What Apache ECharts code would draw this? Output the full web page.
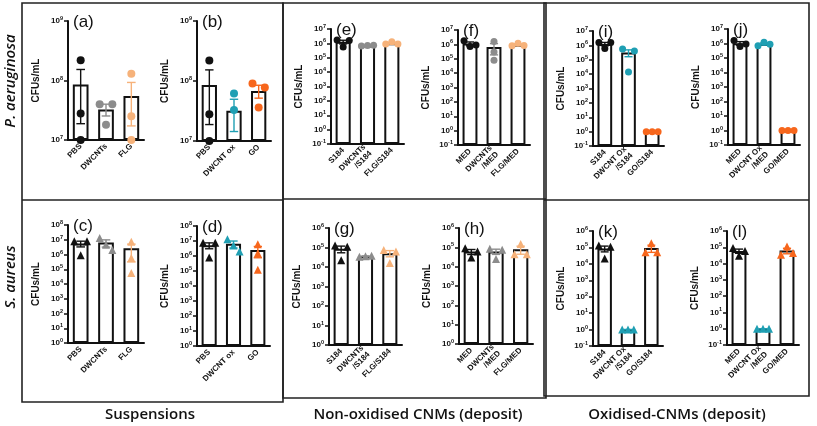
<!DOCTYPE html>
<html><head><meta charset="utf-8">
<script src="https://cdn.jsdelivr.net/npm/echarts@6/dist/echarts.min.js"></script>
<style>html,body{margin:0;padding:0;background:#fff}#c{width:817px;height:426px}</style>
</head><body><div id="c"></div><script>
// ---------- categories ----------
const catsSuspA = ['PBS', 'DWCNTs', 'FLG'];
const catsSuspB = ['PBS', 'DWCNT ox', 'GO'];
const catsDepS184 = ['S184', 'DWCNTs\n/S184', 'FLG/S184'];
const catsDepMED = ['MED', 'DWCNTs\n/MED', 'FLG/MED'];
const catsOxS184 = ['S184', 'DWCNT Ox\n/S184', 'GO/S184'];
const catsOxMED = ['MED', 'DWCNT Ox\n/MED', 'GO/MED'];

// ---------- y-axis ranges (tick labels 10^min ... 10^max) ----------
const rangeSuspPA = [1e7, 1e9];
const rangeSuspSA = [1, 1e8];
const rangeDepPA = [0.1, 1e7];
const rangeDepSA = [1, 1e6];
const rangeOxPA = [0.1, 1e7];
const rangeOxSA = [0.1, 1e6];

// ---------- replicate values (CFUs/mL) ----------
const aPBS = [2.2e8, 2.8e7, 1e7], aDW = [4e7, 1.8e7, 4e7], aFLG = [1.3e8, 2.5e7, 1e7];
const bPBS = [2.2e8, 2.8e7, 1e7], bDWox = [6.2e7, 3.3e7, 1e6], bGO = [9.1e7, 3.6e7, 7.8e7];
const cPBS = [8e6, 9e5, 8e6], cDW = [1.3e7, 4.5e6, 2e6], cFLG = [7.4e6, 5.8e5, 5.6e4];
const dPBS = [7.5e6, 8e5, 7.5e6], dDWox = [1.3e7, 5e6, 2e6], dGO = [6e6, 1.5e6, 1.2e5];
const eS184 = [1.7e6, 5.5e5, 1.6e6], eDW = [6.5e5, 7e5, 7.5e5], eFLG = [9e5, 1.3e6, 9e5];
const fMED = [1.8e6, 7e5, 9e5], fDW = [1.6e6, 3e5, 8e4], fFLG = [8e5, 1.2e6, 8.5e5];
const gS184 = [1.25e5, 2.2e4, 1.1e5], gDW = [3.4e4, 3.6e4, 3.8e4], gFLG = [7.5e4, 1.6e4, 6.3e4];
const hMED = [9e4, 3e4, 6e4], hDW = [8.5e4, 2.5e4, 7.5e4], hFLG = [4.4e4, 1.5e5, 4.4e4];
const iS184 = [1.6e6, 6e5, 1.6e6], iDWox = [5.6e5, 1.4e4, 4e5], iGO = [1, 1, 1];
const jMED = [1.6e6, 6.3e5, 9.3e5], jDWox = [7e5, 1.2e6, 9e5], jGO = [1, 1, 1];
const kS184 = [1.3e5, 2.1e4, 1.1e5], kDWox = [1, 1, 1], kGO = [5e4, 1.8e5, 5e4];
const lMED = [9e4, 3e4, 6e4], lDWox = [1, 1, 1], lGO = [3.5e4, 1.1e5, 4.5e4];

// ---------- styles ----------
const BLACK = '#111111', GRAY = '#8c8c8c', PEACH = '#f6b27a', TEAL = '#1f9fb3', ORANGE = '#f7661c';
const FONT = 'Liberation Sans, Arial, sans-serif';

// ---------- panel layout (grid box in px: l, r, t, b) ----------
const panels = [
  { L: '(a)', cats: catsSuspA, groups: [aPBS, aDW, aFLG], cols: [BLACK, GRAY, PEACH], sym: 'circle', size: 8, range: rangeSuspPA, box: [68, 144, 21, 140] },
  { L: '(b)', cats: catsSuspB, groups: [bPBS, bDWox, bGO], cols: [BLACK, TEAL, ORANGE], sym: 'circle', size: 8, range: rangeSuspPA, box: [197, 271, 21, 141] },
  { L: '(c)', cats: catsSuspA, groups: [cPBS, cDW, cFLG], cols: [BLACK, GRAY, PEACH], sym: 'triangle', size: 8, range: rangeSuspSA, box: [68, 144, 225, 343] },
  { L: '(d)', cats: catsSuspB, groups: [dPBS, dDWox, dGO], cols: [BLACK, TEAL, ORANGE], sym: 'triangle', size: 8, range: rangeSuspSA, box: [197, 270, 226, 346] },
  { L: '(e)', cats: catsDepS184, groups: [eS184, eDW, eFLG], cols: [BLACK, GRAY, PEACH], sym: 'circle', size: 7, range: rangeDepPA, box: [331, 404, 29, 144] },
  { L: '(f)', cats: catsDepMED, groups: [fMED, fDW, fFLG], cols: [BLACK, GRAY, PEACH], sym: 'circle', size: 7, range: rangeDepPA, box: [458, 530, 30, 145] },
  { L: '(g)', cats: catsDepS184, groups: [gS184, gDW, gFLG], cols: [BLACK, GRAY, PEACH], sym: 'triangle', size: 8, range: rangeDepSA, box: [329, 402, 228, 345] },
  { L: '(h)', cats: catsDepMED, groups: [hMED, hDW, hFLG], cols: [BLACK, GRAY, PEACH], sym: 'triangle', size: 8, range: rangeDepSA, box: [459, 533, 228, 344] },
  { L: '(i)', cats: catsOxS184, groups: [iS184, iDWox, iGO], cols: [BLACK, TEAL, ORANGE], sym: 'circle', size: 7, range: rangeOxPA, box: [593, 664, 31, 146] },
  { L: '(j)', cats: catsOxMED, groups: [jMED, jDWox, jGO], cols: [BLACK, TEAL, ORANGE], sym: 'circle', size: 7, range: rangeOxPA, box: [728, 800, 29, 145] },
  { L: '(k)', cats: catsOxS184, groups: [kS184, kDWox, kGO], cols: [BLACK, TEAL, ORANGE], sym: 'triangle', size: 8, range: rangeOxSA, box: [593, 663, 231, 346] },
  { L: '(l)', cats: catsOxMED, groups: [lMED, lDWox, lGO], cols: [BLACK, TEAL, ORANGE], sym: 'triangle', size: 8, range: rangeOxSA, box: [727, 799, 231, 345] }
];

function mean(a) { return a.reduce((s, v) => s + v, 0) / a.length; }
function sem(a) {
  const m = mean(a);
  const v = a.reduce((s, x) => s + (x - m) * (x - m), 0) / (a.length - 1);
  return Math.sqrt(v) / Math.sqrt(a.length);
}
// spread overlapping replicates horizontally (Prism-like scatter)
function jitter(vals, pxPerDec, size) {
  const n = vals.length, pos = vals.map(v => Math.log10(v) * pxPerDec);
  const parent = vals.map((_, i) => i);
  const find = i => parent[i] === i ? i : (parent[i] = find(parent[i]));
  for (let i = 0; i < n; i++) for (let j = i + 1; j < n; j++)
    if (Math.abs(pos[i] - pos[j]) < size * 1.05) parent[find(i)] = find(j);
  const off = new Array(n).fill(0), step = 0.25, clusters = {};
  for (let i = 0; i < n; i++) { const r = find(i); (clusters[r] = clusters[r] || []).push(i); }
  Object.values(clusters).forEach(m => {
    if (m.length === 2) { off[m[0]] = -step; off[m[1]] = step; }
    else if (m.length >= 3) m.forEach((idx, k) => { off[idx] = (k - (m.length - 1) / 2) * step; });
  });
  return off;
}

const grids = [], xAxes = [], yAxes = [], series = [], graphics = [];
panels.forEach((p, pi) => {
  const [l, r, t, b] = p.box;
  grids.push({ left: l, top: t, width: r - l, height: b - t });
  xAxes.push({
    type: 'category', gridIndex: pi, data: p.cats,
    axisLine: { onZero: false, lineStyle: { color: BLACK, width: 2 } },
    axisTick: { alignWithLabel: true, length: 4, lineStyle: { width: 1.5, color: BLACK } },
    axisLabel: { rotate: 45, interval: 0, fontSize: 8, fontWeight: 'bold', color: BLACK, fontFamily: FONT, margin: 5, lineHeight: 9 }
  });
  xAxes.push({ type: 'value', gridIndex: pi, min: -0.5, max: 2.5, show: false });
  yAxes.push({
    type: 'log', logBase: 10, gridIndex: pi, min: p.range[0], max: p.range[1], startValue: p.range[0],
    position: 'left',
    name: 'CFUs/mL', nameLocation: 'middle', nameGap: 27,
    nameTextStyle: { fontSize: 10, fontWeight: 'bold', color: BLACK, fontFamily: FONT },
    axisLine: { show: true, onZero: false, lineStyle: { color: BLACK, width: 2 } },
    axisTick: { show: true, length: 4, lineStyle: { width: 1.5, color: BLACK } },
    splitLine: { show: false },
    axisLabel: {
      margin: 5, color: BLACK,
      formatter: v => '{b|10}{s|' + Math.round(Math.log10(v)) + '}',
      rich: {
        b: { fontSize: 8, fontWeight: 'bold', fontFamily: FONT, color: BLACK },
        s: { fontSize: 5.5, fontWeight: 'bold', fontFamily: FONT, color: BLACK, padding: [0, 0, 5, 0] }
      }
    }
  });
  const means = p.groups.map(mean);
  series.push({
    type: 'bar', xAxisIndex: 2 * pi, yAxisIndex: pi, data: means, barWidth: '62%', z: 2, clip: true,
    itemStyle: { color: '#ffffff', borderColor: BLACK, borderWidth: 2 }, silent: true
  });
  const pxPerDec = (b - t) / (Math.log10(p.range[1]) - Math.log10(p.range[0]));
  p.groups.forEach((g, gi) => {
    const m = means[gi], s = sem(g);
    const lo = Math.max(m - s, p.range[0]), hi = Math.min(m + s, p.range[1]);
    series.push({
      type: 'custom', xAxisIndex: 2 * pi + 1, yAxisIndex: pi, z: 3, clip: true, color: p.cols[gi],
      data: [[gi, m, lo, hi]],
      renderItem: (params, api) => {
        const x = api.value(0);
        const top = api.coord([x, api.value(3)]), bot = api.coord([x, api.value(2)]);
        const hw = api.size([0.17, 0])[0];
        const st = { stroke: p.cols[gi], lineWidth: 1.4 };
        return { type: 'group', children: [
          { type: 'line', shape: { x1: top[0], y1: top[1], x2: bot[0], y2: bot[1] }, style: st },
          { type: 'line', shape: { x1: top[0] - hw, y1: top[1], x2: top[0] + hw, y2: top[1] }, style: st },
          { type: 'line', shape: { x1: bot[0] - hw, y1: bot[1], x2: bot[0] + hw, y2: bot[1] }, style: st }
        ] };
      }
    });
    const off = jitter(g, pxPerDec, p.size);
    series.push({
      type: 'scatter', xAxisIndex: 2 * pi + 1, yAxisIndex: pi, z: 4, clip: true,
      symbol: p.sym, symbolSize: p.size, itemStyle: { color: p.cols[gi], opacity: 1 },
      data: g.map((v, k) => [gi + off[k], v]), silent: true
    });
  });
  graphics.push({ type: 'text', x: l + 5, y: t + 1, style: { text: p.L, font: '17px ' + FONT, fill: BLACK, textVerticalAlign: 'middle' } });
});

// frame boxes
const frame = { stroke: '#222', lineWidth: 1.6, fill: null };
graphics.push({ type: 'rect', shape: { x: 22, y: 3, width: 261, height: 399 }, style: frame });
graphics.push({ type: 'line', shape: { x1: 22, y1: 200, x2: 283, y2: 200 }, style: frame });
graphics.push({ type: 'rect', shape: { x: 283, y: 3, width: 263, height: 395 }, style: frame });
graphics.push({ type: 'line', shape: { x1: 283, y1: 199, x2: 546, y2: 199 }, style: frame });
graphics.push({ type: 'rect', shape: { x: 544, y: 3, width: 265, height: 393 }, style: frame });
graphics.push({ type: 'line', shape: { x1: 544, y1: 200, x2: 809, y2: 200 }, style: frame });

const headFont = "600 15px 'Open Sans', sans-serif";
graphics.push({ type: 'text', x: 11, y: 81, rotation: Math.PI / 2, style: { text: 'P. aeruginosa', font: "italic 600 15px 'Open Sans', sans-serif", fill: BLACK, textAlign: 'center', textVerticalAlign: 'middle' } });
graphics.push({ type: 'text', x: 11, y: 277, rotation: Math.PI / 2, style: { text: 'S. aureus', font: "italic 600 15px 'Open Sans', sans-serif", fill: BLACK, textAlign: 'center', textVerticalAlign: 'middle' } });
graphics.push({ type: 'text', x: 150, y: 415, style: { text: 'Suspensions', font: headFont, fill: BLACK, textAlign: 'center', textVerticalAlign: 'middle' } });
graphics.push({ type: 'text', x: 418, y: 415, style: { text: 'Non-oxidised CNMs (deposit)', font: headFont, fill: BLACK, textAlign: 'center', textVerticalAlign: 'middle' } });
graphics.push({ type: 'text', x: 677, y: 415, style: { text: 'Oxidised-CNMs (deposit)', font: headFont, fill: BLACK, textAlign: 'center', textVerticalAlign: 'middle' } });

const chart = echarts.init(document.getElementById('c'), null, { renderer: 'canvas' });
chart.setOption({
  backgroundColor: '#ffffff', animation: false,
  grid: grids, xAxis: xAxes, yAxis: yAxes, series: series, graphic: graphics
});
</script></body></html>
